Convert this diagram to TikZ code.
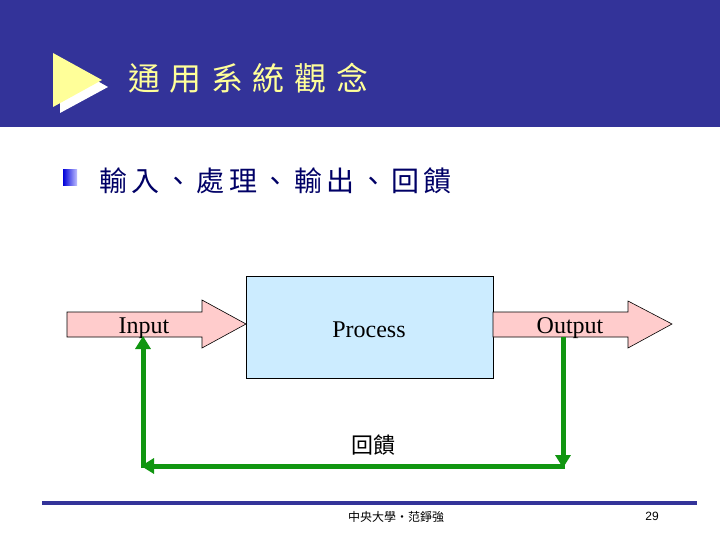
\documentclass[tikz,border=0pt]{standalone}
\usepackage{fontspec}
\setmainfont{Liberation Serif}
\newfontfamily\cjk{Noto Sans CJK TC}
\newfontfamily\cjktitle[LetterSpace=30]{Noto Sans CJK TC}
\newfontfamily\cjkbullet[LetterSpace=16]{Noto Sans CJK TC}
\newfontfamily\sans{Liberation Sans}
\usetikzlibrary{arrows.meta}
\definecolor{band}{RGB}{51,51,153}
\definecolor{titleyellow}{RGB}{255,255,153}
\definecolor{navy}{RGB}{0,0,102}
\definecolor{procfill}{RGB}{204,236,255}
\definecolor{arrfill}{RGB}{255,204,204}
\definecolor{fbgreen}{RGB}{17,150,17}
\tikzset{
  blockarrow/.style={draw=black, fill=arrfill, line width=0.6pt, line join=miter},
  fbline/.style={draw=fbgreen, line width=5pt, -{Triangle[length=13pt,width=15pt]}},
  lbl/.style={inner sep=0pt, anchor=base, font=\fontsize{24}{26}\selectfont},
}
\begin{document}
\begin{tikzpicture}[x=1pt,y=-1pt]
\useasboundingbox (0,0) rectangle (720,540);
\fill[white] (0,0) rectangle (720,540);
% header band
\fill[band] (0,0) rectangle (720,127);
\fill[white] (60,60) -- (60,113) -- (108,87) -- cycle;
\fill[titleyellow] (53,53) -- (53,107) -- (102,80) -- cycle;
\node[anchor=west, inner sep=0pt, text=titleyellow, font=\cjktitle\fontsize{32}{34}\selectfont] (title) at (128,78) {通用系統觀念};
% bullet
\shade[left color=blue!85!black, right color=blue!25] (63,170) rectangle (77,186);
\node[anchor=west, inner sep=0pt, text=navy, font=\cjkbullet\fontsize{28}{30}\selectfont] (bullet) at (99,181) {輸入、處理、輸出、回饋};
% process box
\node[draw=black, fill=procfill, line width=0.6pt, minimum width=247pt, minimum height=102pt, inner sep=0pt, anchor=north west] (proc) at (246,276) {};
\node[lbl] (proctext) at (369,337) {Process};
% input arrow
\draw[blockarrow] (67,312) -- (202,312) -- (202,300) -- (246,324) -- (202,348) -- (202,337) -- (67,337) -- cycle;
\node[lbl] (input) at (144,333) {Input};
% output arrow
\draw[blockarrow] (493,312) -- (628,312) -- (628,301) -- (672,324) -- (628,348) -- (628,337) -- (493,337) -- cycle;
\node[lbl] (output) at (570,333) {Output};
% feedback
\coordinate (outbot) at (563,337);
\coordinate (rc) at (563,468);
\coordinate (rcs) at (565,466);
\coordinate (lc) at (141,466);
\coordinate (lcs) at (143,468);
\coordinate (inbot) at (143,336);
\draw[fbline] (outbot) -- (rc);
\draw[fbline] (rcs) -- (lc);
\draw[fbline] (lcs) -- (inbot);
\node[inner sep=0pt, font=\cjk\fontsize{22}{24}\selectfont] (fb) at (373,445) {回饋};
% footer
\fill[band] (42,501) rectangle (697,505);
\node[inner sep=0pt, font=\cjk\fontsize{12}{14}\selectfont] (foot) at (396,517) {中央大學‧范錚強};
\node[inner sep=0pt, font=\sans\fontsize{12}{14}\selectfont] (page) at (652,516) {29};
\end{tikzpicture}
\end{document}
